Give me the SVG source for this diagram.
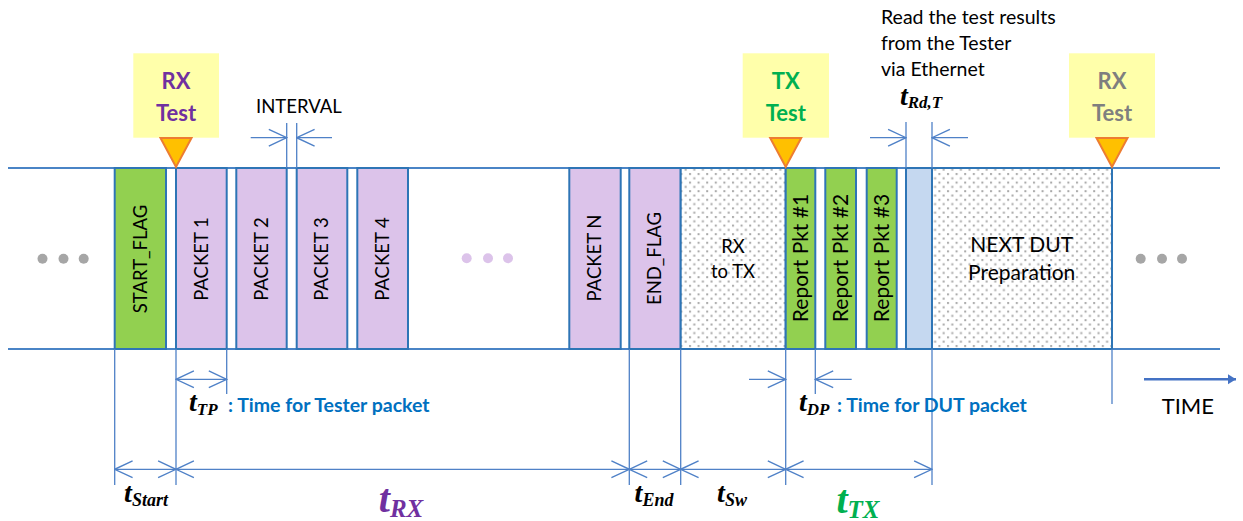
<svg xmlns="http://www.w3.org/2000/svg" width="1243" height="521" viewBox="0 0 1243 521">
  <style>
    .lbl { font-family: Lato, "Noto Sans", sans-serif; fill: #000; }
    .box { stroke: #2E75B6; stroke-width: 2; }
    .pkt { fill: #DCC3EA; }
    .flag { fill: #92D050; }
    .dot { fill: url(#dots); }
    .dim { stroke: #4F81C7; stroke-width: 1.3; fill: none; }
    .rail { stroke: #4A84C6; stroke-width: 2; }
    .call { fill: #FFFFAA; }
    .tri { fill: #FFC000; stroke: #ED7D31; stroke-width: 2; stroke-linejoin: miter; }
    .ctext { font-family: Lato, "Noto Sans", sans-serif; font-weight: bold; font-size: 22px; text-anchor: middle; }
    .math { font-family: "Liberation Serif", serif; font-weight: bold; font-style: italic; }
    .note { font-family: Lato, "Noto Sans", sans-serif; font-weight: bold; font-size: 19.5px; fill: #0070C0; }
  </style>
  <defs>
    <pattern id="dots" width="8.6" height="8.6" patternUnits="userSpaceOnUse">
      <rect width="8.6" height="8.6" fill="#FFFFFF"/>
      <rect x="1" y="1" width="2" height="2" fill="#A8A8A8"/>
      <rect x="5.3" y="5.3" width="2" height="2" fill="#A8A8A8"/>
    </pattern>
    <marker id="chev" markerUnits="userSpaceOnUse" markerWidth="20" markerHeight="20" viewBox="-18 -9 19 18" refX="0" refY="0" orient="auto-start-reverse">
      <path d="M-17,-8 L0,0 L-17,8" fill="none" stroke="#4F81C7" stroke-width="1.3"/>
    </marker>
    <marker id="solid" markerUnits="userSpaceOnUse" markerWidth="10" markerHeight="12" viewBox="-8 -6 9 12" refX="0" refY="0" orient="auto">
      <path d="M-8,-5 L0,0 L-8,5 Z" fill="#4472C4"/>
    </marker>
  </defs>

  <!-- timeline rails -->
  <g id="rails">
    <line class="rail" x1="8" y1="168" x2="1220" y2="168"/>
    <line class="rail" x1="8" y1="349" x2="1220" y2="349"/>
  </g>

  <!-- continuation dots -->
  <g id="dots-left" fill="#A6A6A6">
    <circle cx="42.5" cy="258.7" r="5"/>
    <circle cx="63.5" cy="258.7" r="5"/>
    <circle cx="83.7" cy="258.7" r="5"/>
  </g>
  <g id="dots-mid" fill="#DCC3EA">
    <circle cx="466.7" cy="258.3" r="5"/>
    <circle cx="488" cy="258.3" r="5"/>
    <circle cx="508" cy="258.3" r="5"/>
  </g>
  <g id="dots-right" fill="#A6A6A6">
    <circle cx="1140.7" cy="258.7" r="5"/>
    <circle cx="1162" cy="258.7" r="5"/>
    <circle cx="1182" cy="258.7" r="5"/>
  </g>

  <!-- RX phase -->
  <g id="start-flag">
    <rect class="box flag" x="114.7" y="168" width="51.3" height="181"/>
    <text class="lbl" font-size="18.5" text-anchor="middle" dy="0.35em" transform="translate(140.3,259) rotate(-90)">START_FLAG</text>
  </g>
  <g id="packet-1">
    <rect class="box pkt" x="176" y="168" width="50.7" height="181"/>
    <text class="lbl" font-size="18.5" text-anchor="middle" dy="0.35em" transform="translate(201.3,259) rotate(-90)">PACKET 1</text>
  </g>
  <g id="packet-2">
    <rect class="box pkt" x="236.3" y="168" width="50.4" height="181"/>
    <text class="lbl" font-size="18.5" text-anchor="middle" dy="0.35em" transform="translate(261.5,259) rotate(-90)">PACKET 2</text>
  </g>
  <g id="packet-3">
    <rect class="box pkt" x="296.7" y="168" width="50.6" height="181"/>
    <text class="lbl" font-size="18.5" text-anchor="middle" dy="0.35em" transform="translate(322,259) rotate(-90)">PACKET 3</text>
  </g>
  <g id="packet-4">
    <rect class="box pkt" x="357.3" y="168" width="50.7" height="181"/>
    <text class="lbl" font-size="18.5" text-anchor="middle" dy="0.35em" transform="translate(382.7,259) rotate(-90)">PACKET 4</text>
  </g>
  <g id="packet-n">
    <rect class="box pkt" x="569.3" y="168" width="51.4" height="181"/>
    <text class="lbl" font-size="18.5" text-anchor="middle" dy="0.35em" transform="translate(595,258) rotate(-90)">PACKET N</text>
  </g>
  <g id="end-flag">
    <rect class="box pkt" x="629.3" y="168" width="51.4" height="181"/>
    <text class="lbl" font-size="18.5" text-anchor="middle" dy="0.35em" transform="translate(655,258.5) rotate(-90)">END_FLAG</text>
  </g>

  <!-- switch-over -->
  <g id="rx-to-tx">
    <rect class="box dot" x="680.7" y="168" width="105" height="181"/>
    <text class="lbl" font-size="18.5" text-anchor="middle" x="733" y="252.7">RX</text>
    <text class="lbl" font-size="18.5" text-anchor="middle" x="733" y="278">to TX</text>
  </g>

  <!-- TX phase -->
  <g id="report-1">
    <rect class="box flag" x="785.7" y="168" width="29.6" height="181"/>
    <text class="lbl" font-size="21" text-anchor="middle" dy="0.35em" transform="translate(800.5,258) rotate(-90)">Report Pkt #1</text>
  </g>
  <g id="report-2">
    <rect class="box flag" x="825.3" y="168" width="30.7" height="181"/>
    <text class="lbl" font-size="21" text-anchor="middle" dy="0.35em" transform="translate(840.7,258) rotate(-90)">Report Pkt #2</text>
  </g>
  <g id="report-3">
    <rect class="box flag" x="866.7" y="168" width="30" height="181"/>
    <text class="lbl" font-size="21" text-anchor="middle" dy="0.35em" transform="translate(881.7,258) rotate(-90)">Report Pkt #3</text>
  </g>
  <g id="read-results">
    <rect class="box" fill="#C5D8F0" x="906" y="168" width="26" height="181"/>
  </g>
  <g id="next-dut">
    <rect class="box dot" x="932" y="168" width="180" height="181"/>
    <text class="lbl" font-size="21" text-anchor="middle" x="1021.7" y="251.7">NEXT DUT</text>
    <text class="lbl" font-size="21" text-anchor="middle" x="1021.7" y="280">Preparation</text>
  </g>

  <!-- test start callouts -->
  <g id="rx-test-1">
    <rect class="call" x="133.3" y="53.3" width="85.7" height="84.4"/>
    <text class="ctext" fill="#7030A0" x="176" y="89.3">RX</text>
    <text class="ctext" fill="#7030A0" x="176" y="121">Test</text>
    <path class="tri" d="M160.5,138 L191.5,138 L176,167 Z"/>
  </g>
  <g id="tx-test">
    <rect class="call" x="742.7" y="53.3" width="86.3" height="84.4"/>
    <text class="ctext" fill="#00B050" x="785.8" y="89.3">TX</text>
    <text class="ctext" fill="#00B050" x="785.8" y="121">Test</text>
    <path class="tri" d="M770.2,138 L801.2,138 L785.7,167 Z"/>
  </g>
  <g id="rx-test-2">
    <rect class="call" x="1069" y="53.3" width="86" height="84.4"/>
    <text class="ctext" fill="#7F7F7F" x="1112" y="89.3">RX</text>
    <text class="ctext" fill="#7F7F7F" x="1112" y="121">Test</text>
    <path class="tri" d="M1096.5,138 L1127.5,138 L1112,167 Z"/>
  </g>

  <!-- top annotations -->
  <g id="interval-label">
    <text class="lbl" font-size="18.5" x="256" y="113">INTERVAL</text>
  </g>
  <g id="read-note">
    <text class="lbl" font-size="19.5" x="881" y="23.5">Read the test results</text>
    <text class="lbl" font-size="19.5" x="881" y="50">from the Tester</text>
    <text class="lbl" font-size="19.5" x="881" y="75.5">via Ethernet</text>
  </g>
  <g id="t-rd-label">
    <text class="math" font-size="28" x="900" y="105">t<tspan font-size="17" dy="3">Rd,T</tspan></text>
  </g>

  <!-- dimension lines and extension lines -->
  <g id="connectors">
    <!-- extension lines -->
    <line class="dim" x1="286.7" y1="123" x2="286.7" y2="168"/>
    <line class="dim" x1="296.7" y1="123" x2="296.7" y2="168"/>
    <line class="dim" x1="906" y1="122" x2="906" y2="168"/>
    <line class="dim" x1="932" y1="122" x2="932" y2="168"/>
    <line class="dim" x1="114.7" y1="349" x2="114.7" y2="485"/>
    <line class="dim" x1="176" y1="349" x2="176" y2="485"/>
    <line class="dim" x1="226.7" y1="349" x2="226.7" y2="394"/>
    <line class="dim" x1="629.3" y1="349" x2="629.3" y2="485"/>
    <line class="dim" x1="680.7" y1="349" x2="680.7" y2="485"/>
    <line class="dim" x1="785.7" y1="349" x2="785.7" y2="485"/>
    <line class="dim" x1="815.3" y1="349" x2="815.3" y2="394"/>
    <line class="dim" x1="932" y1="349" x2="932" y2="485"/>
    <line class="dim" x1="1112" y1="349" x2="1112" y2="404"/>

    <!-- interval and read-time arrows -->
    <line class="dim" x1="250.7" y1="137.7" x2="286.7" y2="137.7" marker-end="url(#chev)"/>
    <line class="dim" x1="332" y1="137.7" x2="296.7" y2="137.7" marker-end="url(#chev)"/>
    <line class="dim" x1="870" y1="137.7" x2="906" y2="137.7" marker-end="url(#chev)"/>
    <line class="dim" x1="968" y1="137.7" x2="932" y2="137.7" marker-end="url(#chev)"/>

    <!-- packet durations -->
    <line class="dim" x1="176" y1="379.3" x2="226.7" y2="379.3" marker-start="url(#chev)" marker-end="url(#chev)"/>
    <line class="dim" x1="749" y1="379.3" x2="785.7" y2="379.3" marker-end="url(#chev)"/>
    <line class="dim" x1="851.7" y1="379.3" x2="815.3" y2="379.3" marker-end="url(#chev)"/>

    <!-- phase durations -->
    <line class="dim" x1="114.7" y1="469.3" x2="176" y2="469.3" marker-start="url(#chev)" marker-end="url(#chev)"/>
    <line class="dim" x1="176" y1="469.3" x2="629.3" y2="469.3" marker-start="url(#chev)" marker-end="url(#chev)"/>
    <line class="dim" x1="629.3" y1="469.3" x2="680.7" y2="469.3" marker-start="url(#chev)" marker-end="url(#chev)"/>
    <line class="dim" x1="680.7" y1="469.3" x2="785.7" y2="469.3" marker-start="url(#chev)" marker-end="url(#chev)"/>
    <line class="dim" x1="785.7" y1="469.3" x2="932" y2="469.3" marker-start="url(#chev)" marker-end="url(#chev)"/>

    <!-- time axis -->
    <line x1="1144" y1="379.3" x2="1236" y2="379.3" stroke="#4472C4" stroke-width="2.5" marker-end="url(#solid)"/>
  </g>

  <!-- duration labels -->
  <g id="t-tp-label">
    <text class="math" font-size="28" x="189" y="411">t<tspan font-size="17" dy="4">TP</tspan></text>
    <text class="note" x="228" y="411.5">: Time for Tester packet</text>
  </g>
  <g id="t-dp-label">
    <text class="math" font-size="28" x="799" y="411">t<tspan font-size="17" dy="4">DP</tspan></text>
    <text class="note" x="837" y="411.5">: Time for DUT packet</text>
  </g>
  <g id="t-start-label">
    <text class="math" font-size="28" text-anchor="middle" x="146" y="502">t<tspan font-size="18" dy="3.5">Start</tspan></text>
  </g>
  <g id="t-rx-label">
    <text class="math" font-size="40" fill="#7030A0" text-anchor="middle" x="401" y="512">t<tspan font-size="25" dy="5">RX</tspan></text>
  </g>
  <g id="t-end-label">
    <text class="math" font-size="28" text-anchor="middle" x="654" y="502">t<tspan font-size="18" dy="3.5">End</tspan></text>
  </g>
  <g id="t-sw-label">
    <text class="math" font-size="28" text-anchor="middle" x="732" y="502">t<tspan font-size="18" dy="3.5">Sw</tspan></text>
  </g>
  <g id="t-tx-label">
    <text class="math" font-size="40" fill="#00B050" text-anchor="middle" x="858" y="513">t<tspan font-size="25" dy="5">TX</tspan></text>
  </g>
  <g id="time-label">
    <text class="lbl" font-size="22" x="1161.7" y="414.3">TIME</text>
  </g>
</svg>
